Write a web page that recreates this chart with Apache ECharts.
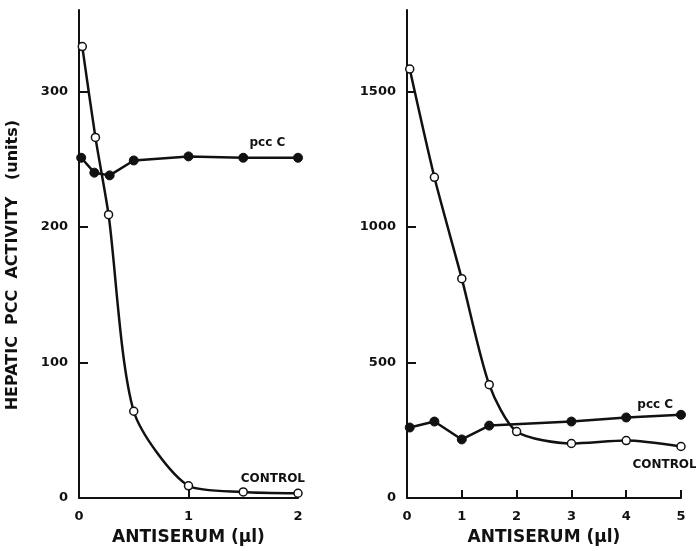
<!DOCTYPE html>
<html>
<head>
<meta charset="utf-8">
<script src="https://cdn.jsdelivr.net/npm/echarts@6/dist/echarts.min.js"></script>
<style>
  html, body { margin: 0; padding: 0; background: #fff; }
  #main { width: 696px; height: 551px; }
</style>
</head>
<body>
<div id="main"></div>
<script>
// left panel (0-2 ul)
var leftControlX = [0.03, 0.15, 0.27, 0.5, 1, 1.5, 2];
var leftControlY = [333, 266, 209, 64, 9, 4.5, 3.5];
var leftPccX = [0.02, 0.14, 0.28, 0.5, 1, 1.5, 2];
var leftPccY = [251, 240, 238, 249, 252, 251, 251];
var leftXTicks = [0, 1, 2];
var leftYTicks = [0, 100, 200, 300];

// right panel (0-5 ul)
var rightControlX = [0.05, 0.5, 1, 1.5, 2, 3, 4, 5];
var rightControlY = [1582, 1183, 809, 418, 245, 201, 212, 190];
var rightPccX = [0.05, 0.5, 1, 1.5, 3, 4, 5];
var rightPccY = [260, 282, 216, 267, 282, 297, 307];
var rightXTicks = [0, 1, 2, 3, 4, 5];
var rightYTicks = [0, 500, 1000, 1500];

var ink = '#111';
var font = 'DejaVu Sans';

function pairs(xs, ys) {
  return xs.map(function (x, i) { return [x, ys[i]]; });
}

function plain(v) {
  return String(v);
}

function xAxis(idx, max, ticks) {
  return {
    type: 'value', gridIndex: idx, min: 0, max: max,
    name: 'ANTISERUM (\u03bcl)', nameLocation: 'middle', nameGap: 31,
    nameTextStyle: { color: ink, fontFamily: font, fontWeight: 'bold', fontSize: 17 },
    splitLine: { show: false },
    axisLine: { lineStyle: { color: ink, width: 2 } },
    axisTick: { inside: true, length: 8, customValues: ticks, lineStyle: { color: ink, width: 2 } },
    axisLabel: { customValues: ticks, formatter: plain, margin: 12, color: ink, fontFamily: font, fontWeight: 'bold', fontSize: 13 }
  };
}

function yAxis(idx, max, ticks, name) {
  return {
    type: 'value', gridIndex: idx, min: 0, max: max,
    name: name, nameLocation: 'middle', nameGap: 58,
    nameTextStyle: { color: ink, fontFamily: font, fontWeight: 'bold', fontSize: 16 },
    splitLine: { show: false },
    axisLine: { show: true, lineStyle: { color: ink, width: 2 } },
    axisTick: { show: true, inside: true, length: 9, customValues: ticks, lineStyle: { color: ink, width: 2 } },
    axisLabel: { customValues: ticks, formatter: plain, margin: 11, color: ink, fontFamily: font, fontWeight: 'bold', fontSize: 13 }
  };
}

// text tag placed in data coords
function tag(text, coord) {
  return {
    symbol: 'circle', symbolSize: 2,
    itemStyle: { color: 'rgba(0,0,0,0)' },
    data: [{ coord: coord }],
    label: { show: true, formatter: text, position: 'inside', color: ink, fontFamily: font, fontWeight: 'bold', fontSize: 12 }
  };
}

function controlSeries(idx, xs, ys, label) {
  return {
    type: 'line', xAxisIndex: idx, yAxisIndex: idx,
    data: pairs(xs, ys), smooth: 0.25,
    symbol: 'circle', symbolSize: 8,
    lineStyle: { color: ink, width: 2.5 },
    itemStyle: { color: '#fff', borderColor: ink, borderWidth: 1.5 },
    markPoint: label, z: 3
  };
}

function pccSeries(idx, xs, ys, label) {
  return {
    type: 'line', xAxisIndex: idx, yAxisIndex: idx,
    data: pairs(xs, ys),
    symbol: 'circle', symbolSize: 9,
    lineStyle: { color: ink, width: 2.5 },
    itemStyle: { color: ink, borderColor: ink, borderWidth: 1 },
    markPoint: label, z: 2
  };
}

var option = {
  backgroundColor: '#fff',
  animation: false,
  grid: [
    { left: 79, top: 10, width: 219, bottom: 49 },
    { left: 407, top: 10, width: 274, bottom: 49 }
  ],
  xAxis: [xAxis(0, 2, leftXTicks), xAxis(1, 5, rightXTicks)],
  yAxis: [
    yAxis(0, 360, leftYTicks, 'HEPATIC  PCC  ACTIVITY   (units)    '),
    yAxis(1, 1800, rightYTicks, '')
  ],
  series: [
    controlSeries(0, leftControlX, leftControlY, tag('CONTROL', [1.77, 14])),
    pccSeries(0, leftPccX, leftPccY, tag('pcc C', [1.72, 262])),
    controlSeries(1, rightControlX, rightControlY, tag('CONTROL', [4.7, 124])),
    pccSeries(1, rightPccX, rightPccY, tag('pcc C', [4.53, 342]))
  ]
};

var chart = echarts.init(document.getElementById('main'), null, { renderer: 'canvas' });
chart.setOption(option);
</script>
</body>
</html>
